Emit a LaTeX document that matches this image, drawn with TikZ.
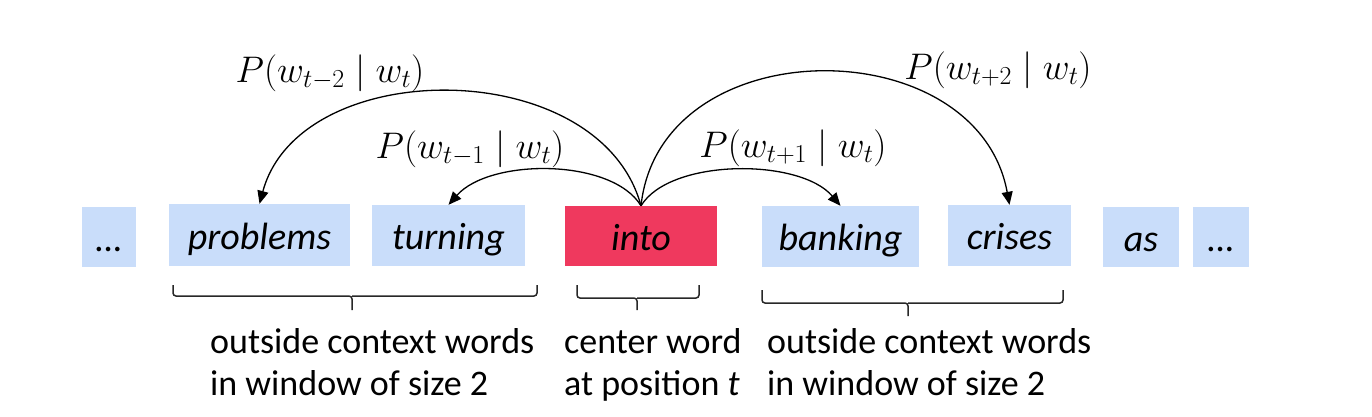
\RequirePackage{fix-cm}
\documentclass[tikz,border=0pt]{standalone}
\usepackage{fontspec}
\setmainfont{Carlito}
\usetikzlibrary{arrows.meta}
\definecolor{wblue}{RGB}{201,221,250}
\definecolor{wred}{RGB}{239,57,94}
\definecolor{brk}{RGB}{40,40,40}
\begin{document}
\begin{tikzpicture}[x=1pt,y=-1pt,
  wbox/.style={fill=wblue, inner sep=0pt, font=\fontsize{38}{40}\selectfont\itshape, text height=30pt, text depth=2pt},
  cbox/.style={wbox, fill=wred},
  arr/.style={line width=1.3pt, -{Triangle[length=13pt,width=11pt]}},
  brace/.style={line width=1.5pt, brk, rounded corners=3pt},
  plab/.style={inner sep=0pt, anchor=base, font=\fontsize{37}{40}\selectfont},
  captext/.style={inner sep=0pt, anchor=base west, font=\fontsize{36}{42}\selectfont}]
\useasboundingbox (0,0) rectangle (1372,416);
% word boxes
\node[wbox, minimum width=54pt,  minimum height=60pt] (d1) at (109,237) {…};
\node[wbox, minimum width=181pt, minimum height=62pt] (problems) at (259.5,235) {problems};
\node[wbox, minimum width=153pt, minimum height=61pt] (turning) at (448.5,235.5) {turning};
\node[cbox, minimum width=152pt, minimum height=60pt] (into) at (641,236) {into};
\node[wbox, minimum width=157pt, minimum height=61pt] (banking) at (840.5,236.5) {banking};
\node[wbox, minimum width=123pt, minimum height=61pt] (crises) at (1009.5,235.5) {crises};
\node[wbox, minimum width=76pt,  minimum height=60pt] (as) at (1141,237) {as};
\node[wbox, minimum width=56pt,  minimum height=60pt] (d2) at (1221,237) {…};
% arrows
\draw[arr] (into.north) .. controls (600,54) and (300,54) .. (problems.north);
\draw[arr] (into.north) .. controls (612,158) and (490,158) .. (turning.north);
\draw[arr] (into.north) .. controls (670,158) and (800,158) .. (banking.north);
\draw[arr] (into.north) .. controls (660,28) and (977,28) .. (crises.north);
% probability labels
\node[plab] (pm2) at (330,82) {$P(w_{t-2} \mid w_t)$};
\node[plab] (pm1) at (470,158) {$P(w_{t-1} \mid w_t)$};
\node[plab] (pp1) at (793,157) {$P(w_{t+1} \mid w_t)$};
\node[plab] (pp2) at (998,79) {$P(w_{t+2} \mid w_t)$};
% brackets
\draw[brace] (173,285) -- (173,296) -- (352,296) -- (352,310);
\draw[brace] (352,296) -- (537,296) -- (537,285);
\draw[brace] (577,285) -- (577,298) -- (637,298) -- (637,310);
\draw[brace] (637,298) -- (699,298) -- (699,285);
\draw[brace] (762,290) -- (762,303) -- (908,303) -- (908,316);
\draw[brace] (908,303) -- (1063,303) -- (1063,290);
% captions
\node[captext] (l1) at (210,353) {outside context words};
\node[captext] (l2) at (210,395) {in window of size 2};
\node[captext] (c1) at (564,353) {center word};
\node[captext] (c2) at (564,395) {at position \textit{t}};
\node[captext] (r1) at (767,353) {outside context words};
\node[captext] (r2) at (767,395) {in window of size 2};
\end{tikzpicture}
\end{document}
